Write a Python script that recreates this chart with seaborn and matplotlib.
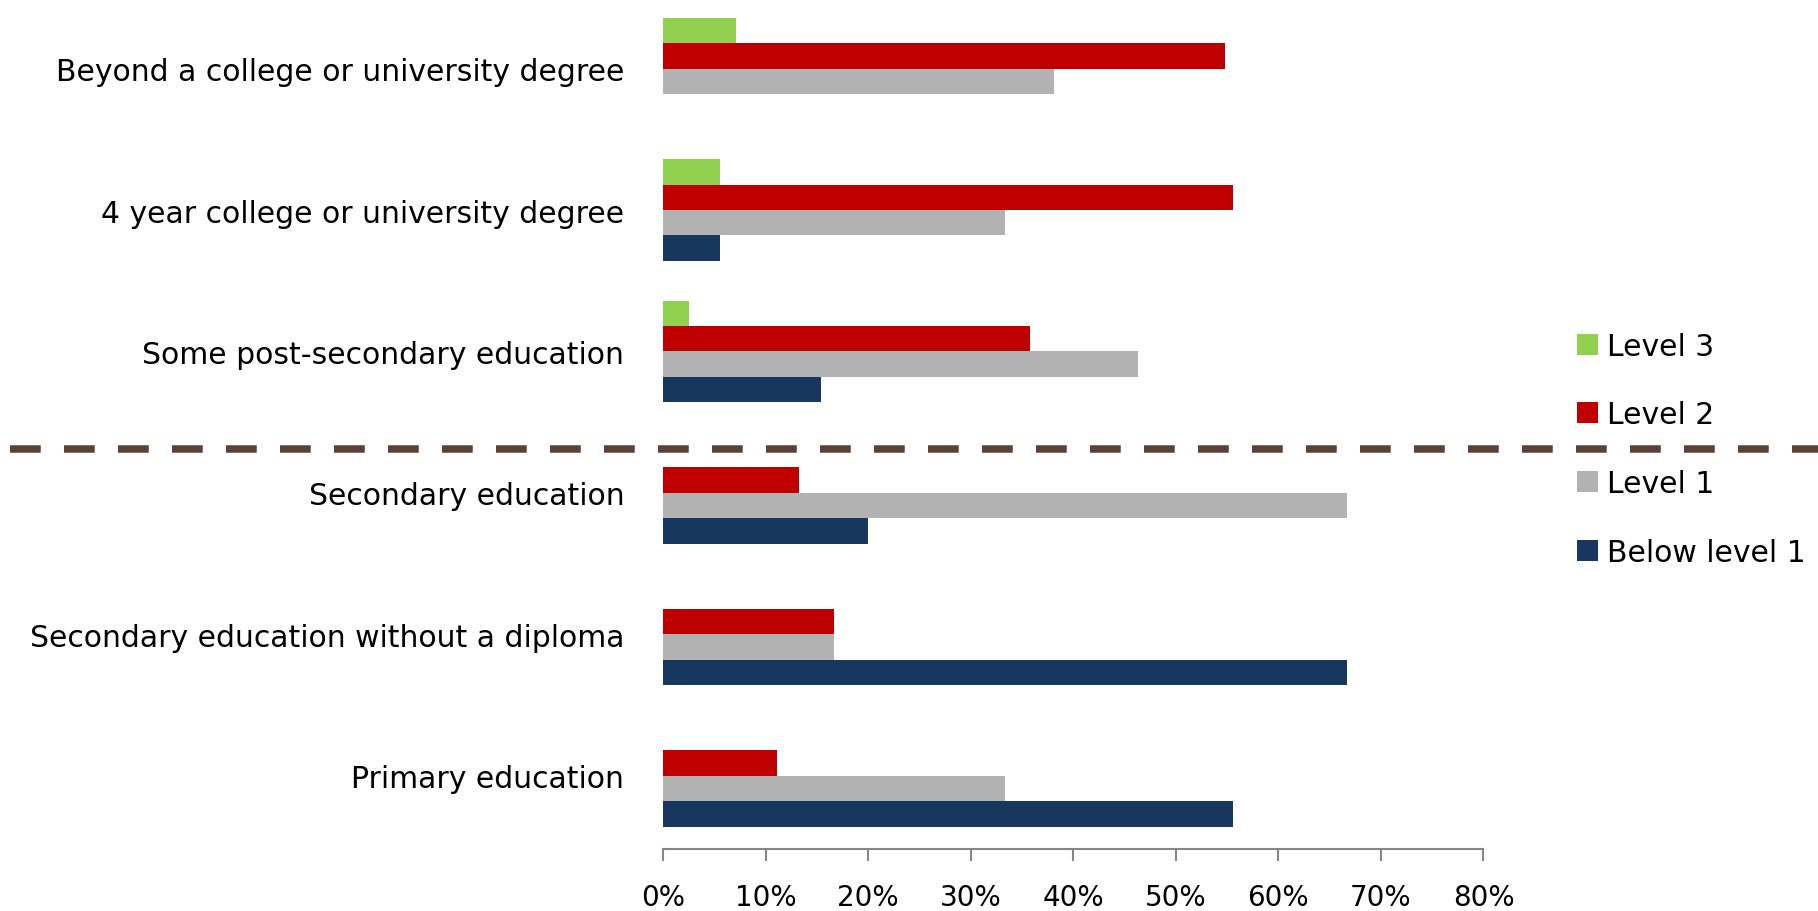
import pandas as pd
import matplotlib
matplotlib.use("Agg")
import matplotlib.pyplot as plt
import matplotlib.transforms as mtransforms
from matplotlib.patches import Patch
import seaborn as sns

# Data
categories = [
    "Beyond a college or university degree",
    "4 year college or university degree",
    "Some post-secondary education",
    "Secondary education",
    "Secondary education without a diploma",
    "Primary education",
]
levels = ["Level 3", "Level 2", "Level 1", "Below level 1"]
level3 = [7.1, 5.6, 2.5, 0, 0, 0]
level2 = [54.8, 55.6, 35.8, 13.3, 16.7, 11.1]
level1 = [38.1, 33.3, 46.3, 66.7, 16.7, 33.3]
below1 = [0, 5.6, 15.4, 20.0, 66.7, 55.6]
x_ticks = [0, 10, 20, 30, 40, 50, 60, 70, 80]

colors = ["#92D050", "#C00000", "#B2B2B2", "#17375E"]

df = pd.DataFrame({
    "education": categories,
    "Level 3": level3,
    "Level 2": level2,
    "Level 1": level1,
    "Below level 1": below1,
})
long_df = df.melt(id_vars="education", var_name="level", value_name="share")

sns.set_style("white")
plt.rcParams["font.family"] = ["DejaVu Sans"]

fig = plt.figure(figsize=(18.18, 9.12), dpi=100)
ax = fig.add_axes([0.3647, 0.0682, 0.4513, 0.9318])

sns.barplot(
    data=long_df,
    x="share",
    y="education",
    hue="level",
    hue_order=levels,
    order=categories,
    palette=colors,
    orient="h",
    width=0.72,
    saturation=1,
    linewidth=0,
    errorbar=None,
    legend=False,
    ax=ax,
)

ax.set_xlim(0, 80)
ax.set_ylim(5.516, -0.492)
ax.set_xticks(x_ticks)
ax.set_xticklabels([f"{t}%" for t in x_ticks], fontsize=20)
ax.set_xlabel("")
ax.set_ylabel("")
ax.tick_params(axis="y", length=0, pad=28, labelsize=21.5, labelcolor="black")
ax.tick_params(axis="x", bottom=True, direction="out", length=8.6, width=1.5,
               color="#868686", pad=16, labelcolor="black")

for side in ["top", "right", "left"]:
    ax.spines[side].set_visible(False)
ax.spines["bottom"].set_color("#868686")
ax.spines["bottom"].set_linewidth(1.5)

# dashed divider across the whole figure
trans = mtransforms.blended_transform_factory(fig.transFigure, ax.transData)
ax.plot([0.0055, 1.0], [2.69, 2.69], transform=trans, color="#5B4137",
        linewidth=5.4, linestyle=(0, (4.1, 3.1)), clip_on=False)

handles = [Patch(facecolor=c, edgecolor="none", label=l) for c, l in zip(colors, levels)]
fig.legend(
    handles=handles,
    loc="upper left",
    bbox_to_anchor=(0.8674, 0.6354),
    frameon=False,
    fontsize=21.5,
    labelcolor="black",
    handlelength=0.7,
    handleheight=0.7,
    handletextpad=0.3,
    labelspacing=1.33,
    borderpad=0,
    borderaxespad=0,
)

fig.savefig("out.png", dpi=100)
